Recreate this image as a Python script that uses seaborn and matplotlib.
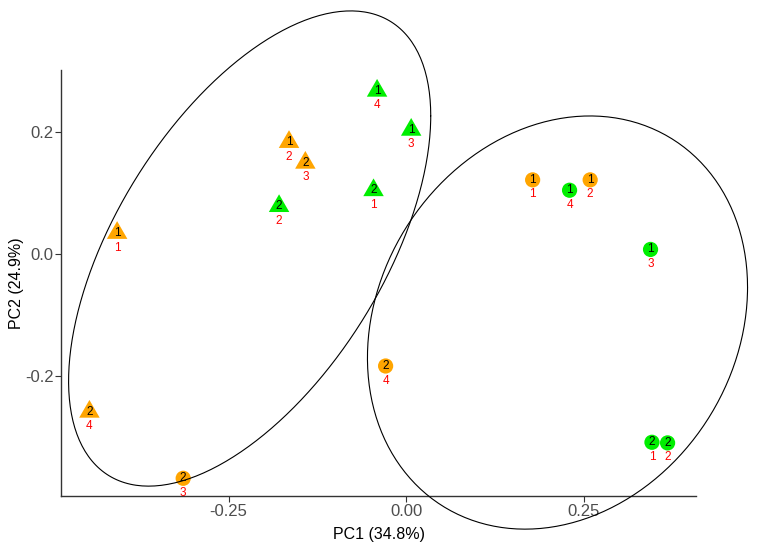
import matplotlib
matplotlib.use("Agg")
import matplotlib.pyplot as plt
import numpy as np
import pandas as pd
import seaborn as sns

# PCA scores
pc1 = [-0.407, -0.165, -0.142, -0.446, -0.041, 0.007, -0.046, -0.179,
       0.178, 0.259, -0.029, -0.314, 0.230, 0.344, 0.346, 0.368]
pc2 = [0.035, 0.184, 0.150, -0.258, 0.268, 0.204, 0.105, 0.079,
       0.122, 0.122, -0.183, -0.367, 0.105, 0.008, -0.308, -0.309]
colour_group = ["A", "A", "A", "A", "B", "B", "B", "B",
                "A", "A", "A", "A", "B", "B", "B", "B"]
shape_group = ["tri"] * 8 + ["circ"] * 8
inner_label = ["1", "1", "2", "2", "1", "1", "2", "2",
               "1", "1", "2", "2", "1", "1", "2", "2"]
outer_label = ["1", "2", "3", "4", "4", "3", "1", "2",
               "1", "2", "4", "3", "4", "3", "1", "2"]

# confidence ellipses: centre and shape matrix (xx, xy, yy)
ellipse_cx = [-0.2204, 0.213]
ellipse_cy = [0.0095, -0.1118]
ellipse_sxx = [0.0650, 0.0716]
ellipse_sxy = [0.0554, 0.01545]
ellipse_syy = [0.1516, 0.1146]

df = pd.DataFrame({
    "PC1": pc1,
    "PC2": pc2,
    "colour": colour_group,
    "shape": shape_group,
    "inner": inner_label,
    "outer": outer_label,
})

sns.set_theme(style="ticks")
plt.rcParams["font.family"] = ["Liberation Sans", "DejaVu Sans"]

fig = plt.figure(figsize=(7.58, 5.5), dpi=100)
ax = fig.add_axes([0.0805, 0.0982, 0.8377, 0.7745])

triangle = [(0, 1), (-0.866, -0.5), (0.866, -0.5)]
sns.scatterplot(
    data=df, x="PC1", y="PC2", hue="colour", style="shape",
    palette={"A": "#FFA500", "B": "#00EE00"},
    markers={"tri": triangle, "circ": "o"},
    size="shape", sizes={"tri": 290, "circ": 120},
    linewidth=0, legend=False, ax=ax,
)

t = np.linspace(0, 2 * np.pi, 300)
for cx, cy, sxx, sxy, syy in zip(ellipse_cx, ellipse_cy, ellipse_sxx, ellipse_sxy, ellipse_syy):
    chol = np.linalg.cholesky(np.array([[sxx, sxy], [sxy, syy]]))
    pts = chol @ np.vstack([np.cos(t), np.sin(t)])
    ax.plot(cx + pts[0], cy + pts[1], color="black", lw=0.8, clip_on=False, zorder=3)

for x, y, a, b in zip(pc1, pc2, inner_label, outer_label):
    ax.text(x, y, a, ha="center", va="center", fontsize=8.5, color="black", zorder=4)
    ax.annotate(b, (x, y), xytext=(0, -10.5), textcoords="offset points",
                ha="center", va="center", fontsize=8.5, color="red", zorder=4)

ax.set_xlim(-0.486, 0.408)
ax.set_ylim(-0.396, 0.302)
ax.set_xticks([-0.25, 0.0, 0.25])
ax.set_xticklabels(["-0.25", "0.00", "0.25"])
ax.set_yticks([-0.2, 0.0, 0.2])
ax.set_yticklabels(["-0.2", "0.0", "0.2"])
ax.set_xlabel("PC1 (34.8%)", fontsize=11.5, color="black")
ax.set_ylabel("PC2 (24.9%)", fontsize=11.5, color="black")
ax.xaxis.set_label_coords(0.5, -0.072)
ax.yaxis.set_label_coords(-0.0583, 0.5)
ax.tick_params(axis="both", labelsize=12, colors="#333333", labelcolor="#4D4D4D",
               length=4, width=0.8, pad=1.5)
sns.despine(ax=ax)
for side in ["left", "bottom"]:
    ax.spines[side].set_color("#333333")
    ax.spines[side].set_linewidth(1.0)

fig.savefig("out.png", dpi=100)
